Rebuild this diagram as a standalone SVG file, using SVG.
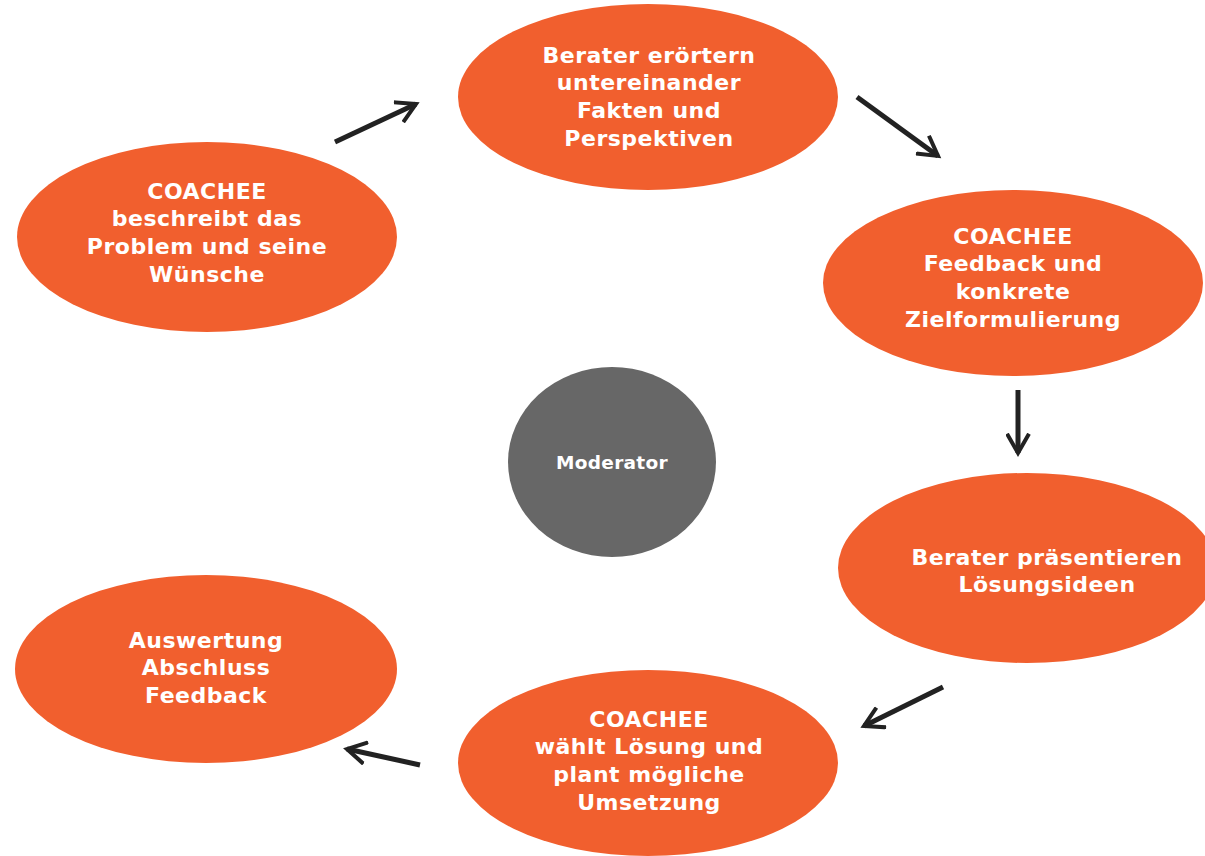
<svg xmlns="http://www.w3.org/2000/svg" width="1205" height="856" viewBox="0 0 1205 856">
<defs>
<style>
.n{fill:#F15F2E}
.m{fill:#676767}
.t{font-family:"DejaVu Sans",Verdana,sans-serif;font-weight:bold;font-size:22px;letter-spacing:0.5px;fill:#fff;text-anchor:middle}
.mt{font-family:"DejaVu Sans",Verdana,sans-serif;font-weight:bold;font-size:18.5px;letter-spacing:0.3px;fill:#fff;text-anchor:middle}
.c{stroke:#222;stroke-width:5;fill:none;marker-end:url(#ah)}
</style>
<marker id="ah" viewBox="0 0 10 10" refX="8" refY="5" markerWidth="5" markerHeight="5" orient="auto" markerUnits="strokeWidth">
<path d="M1,1 L8,5 L1,9" fill="none" stroke="#222" stroke-width="1.6" stroke-linecap="square"/>
</marker>
</defs>
<rect width="1205" height="856" fill="#fff"/>
<g id="n1"><ellipse class="n" cx="207" cy="237" rx="190" ry="95"/>
<text class="t" x="207" y="199">COACHEE</text><text class="t" x="207" y="226">beschreibt das</text><text class="t" x="207" y="254">Problem und seine</text><text class="t" x="207" y="282">Wünsche</text></g>
<g id="n2"><ellipse class="n" cx="648" cy="97" rx="190" ry="93"/>
<text class="t" x="649" y="63">Berater erörtern</text><text class="t" x="649" y="90">untereinander</text><text class="t" x="649" y="118">Fakten und</text><text class="t" x="649" y="146">Perspektiven</text></g>
<g id="n3"><ellipse class="n" cx="1013" cy="283" rx="190" ry="93"/>
<text class="t" x="1013" y="244">COACHEE</text><text class="t" x="1013" y="271">Feedback und</text><text class="t" x="1013" y="299">konkrete</text><text class="t" x="1013" y="327">Zielformulierung</text></g>
<g id="n4"><ellipse class="n" cx="1027" cy="568" rx="189" ry="95"/>
<text class="t" x="1047" y="565">Berater präsentieren</text><text class="t" x="1047" y="592">Lösungsideen</text></g>
<g id="n5"><ellipse class="n" cx="648" cy="763" rx="190" ry="93"/>
<text class="t" x="649" y="727">COACHEE</text><text class="t" x="649" y="754">wählt Lösung und</text><text class="t" x="649" y="782">plant mögliche</text><text class="t" x="649" y="810">Umsetzung</text></g>
<g id="n6"><ellipse class="n" cx="206" cy="669" rx="191" ry="94"/>
<text class="t" x="206" y="648">Auswertung</text><text class="t" x="206" y="675">Abschluss</text><text class="t" x="206" y="703">Feedback</text></g>
<g id="mod"><ellipse class="m" cx="612" cy="462" rx="104" ry="95"/>
<text class="mt" x="612" y="469">Moderator</text></g>
<g id="connectors">
<line class="c" x1="335" y1="142" x2="416" y2="104"/>
<line class="c" x1="857" y1="97" x2="938" y2="156"/>
<line class="c" x1="1018" y1="390" x2="1018" y2="453"/>
<line class="c" x1="943" y1="687" x2="864" y2="726"/>
<line class="c" x1="420" y1="765" x2="347" y2="749"/>
</g>
</svg>
